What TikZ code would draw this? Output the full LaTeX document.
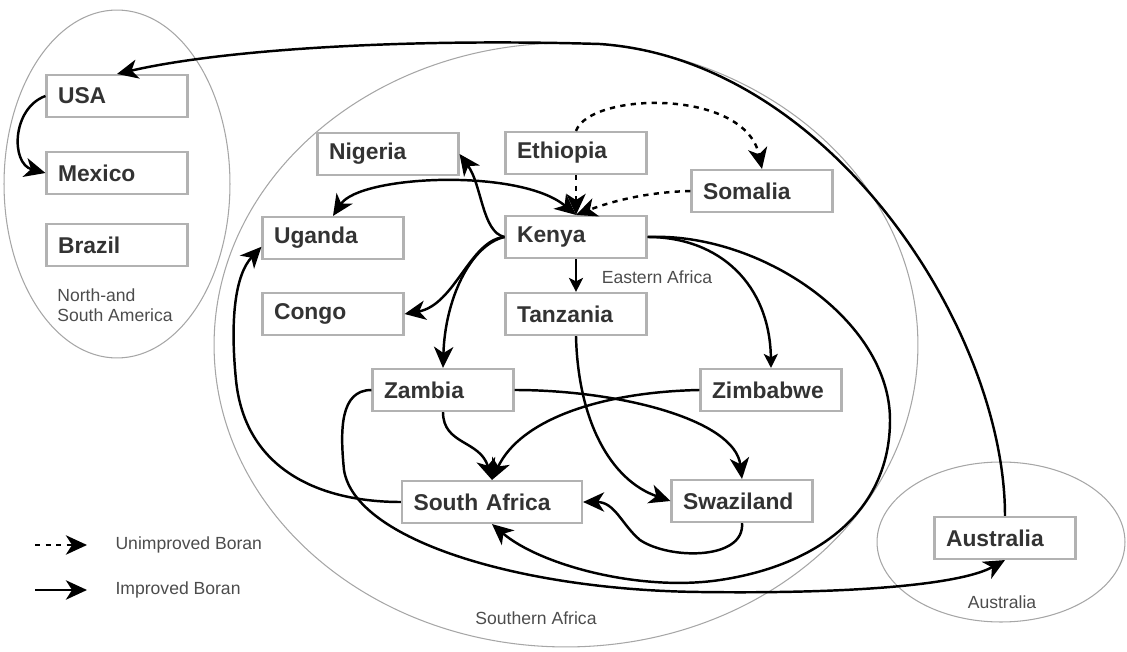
\documentclass[tikz,border=0pt]{standalone}
\usepackage{fontspec}
\setmainfont{Liberation Sans}
\usetikzlibrary{arrows.meta}

\begin{document}
\begin{tikzpicture}[x=0.02cm, y=-0.02cm, thick,
            main/.style = {draw=gray!60, line width=1.2pt, minimum height=0.84cm, minimum width=2.82cm, text width=2.36cm, inner xsep=0.23cm, align=left, text=black!80, font=\fontsize{13}{15}\selectfont\bfseries},
            region/.style = {draw=gray!70, line width=0.6pt},
            lbl/.style = {text=black!70, font=\fontsize{10}{11.5}\selectfont},
            link/.style = {line width=1.4pt, -{Stealth[length=12pt, width=11pt, inset=3.5pt]}},
            twoway/.style = {line width=1.4pt, {Stealth[length=12pt, width=11pt, inset=3.5pt]}-{Stealth[length=12pt, width=11pt, inset=3.5pt]}},
            smalltip/.style = {line width=1.4pt, -{Stealth[length=8pt, width=8pt, inset=2pt]}}]
            \useasboundingbox (0,0) rectangle (1127,652);

            \draw[region] (117,184) ellipse [x radius=2.26cm, y radius=3.48cm];
            \draw[region] (566,345) ellipse [x radius=7.04cm, y radius=6.04cm];
            \draw[region] (1001,542) ellipse [x radius=2.48cm, y radius=1.6cm];

            \node[main] (usa) at (117,96) {USA};
            \node[main] (mex) at (117,173) {Mexico};
            \node[main] (bra) at (117,245) {Brazil};
            \node[main] (nig) at (388,154) {Nigeria};
            \node[main] (eth) at (576,153) {Ethiopia};
            \node[main] (som) at (762,191) {Somalia};
            \node[main] (uga) at (333,238) {Uganda};
            \node[main] (ken) at (576,237) {Kenya};
            \node[main] (con) at (333,314) {Congo};
            \node[main] (tan) at (576,314) {Tanzania};
            \node[main] (zam) at (443,390) {Zambia};
            \node[main] (zim) at (771,390) {Zimbabwe};
            \node[main, minimum width=3.6cm, text width=3.14cm] (saf) at (492,502) {South Africa};
            \node[main] (swa) at (742,501) {Swaziland};
            \node[main] (aus) at (1005,538) {Australia};

            \node[lbl, align=left] (nsa) at (115,305) {North-and\\South America};
            \node[lbl] (eaf) at (657,277) {Eastern Africa};
            \node[lbl] (sth) at (536,618) {Southern Africa};
            \node[lbl] (ausl) at (1002,602) {Australia};
            \node[lbl, anchor=west] (unimp) at (109,545) {Unimproved Boran};
            \node[lbl, anchor=west] (imp) at (109,590) {Improved Boran};
            \coordinate (d1) at (35,545);
            \coordinate (s1) at (35,590);

            \draw[link] (aus.north) .. controls (1005,330) and (830,60) .. (600,44) .. controls (400,38) and (220,50) .. (usa.north);

            \path[link] (usa.west) edge[out=200, in=165, looseness=1.2] (mex.west);

            \draw[link, dashed] (eth.north) .. controls (590,92) and (745,88) .. (som.north);

            \draw[link, dashed] (som.west) .. controls (650,192) and (615,200) .. (ken.north);

            \path[link, dashed] (eth) edge (ken);

            \draw[twoway] (uga.north) .. controls (360,175) and (520,168) .. (ken.north);

            \draw[link] (ken.west) .. controls (482,232) and (482,185) .. (nig.east);

            \draw[link] (ken.west) .. controls (470,240) and (455,305) .. (con.east);

            \draw[link] (ken.west) .. controls (470,245) and (445,300) .. (zam.north);

            \path[smalltip] (ken) edge (tan);

            \draw[smalltip] (ken.east) .. controls (720,237) and (770,285) .. (zim.north);

            \draw[link] (ken.east) .. controls (760,232) and (890,320) .. (890,420) .. controls (890,510) and (820,565) .. (720,580) .. controls (640,592) and (540,565) .. (saf.south);

            \draw[link] (zam.west) .. controls (340,390) and (340,430) .. (344,470) .. controls (355,540) and (520,590) .. (700,592) .. controls (850,594) and (960,585) .. (aus.south);

            \draw[link] (saf.west) .. controls (320,502) and (245,470) .. (236,380) .. controls (230,320) and (235,275) .. ([yshift=-5pt]uga.west);

            \draw[link] (swa.south) .. controls (745,560) and (670,560) .. (640,540) .. controls (622,525) and (615,502) .. (saf.east);

            \draw[link] (tan.south) .. controls (578,420) and (610,480) .. (swa.west);

            \draw[link] (zam.east) .. controls (620,390) and (735,420) .. (swa.north);

            \draw[link] (zim.west) .. controls (600,392) and (520,420) .. (saf.north);

            \draw[link] (zam.south) .. controls (443,445) and (480,440) .. (saf.north);

            \path[link, dashed] (d1) edge ([xshift=-0.44cm]unimp.west);

            \path[link] (s1) edge ([xshift=-0.44cm]imp.west);
        \end{tikzpicture}
\end{document}
